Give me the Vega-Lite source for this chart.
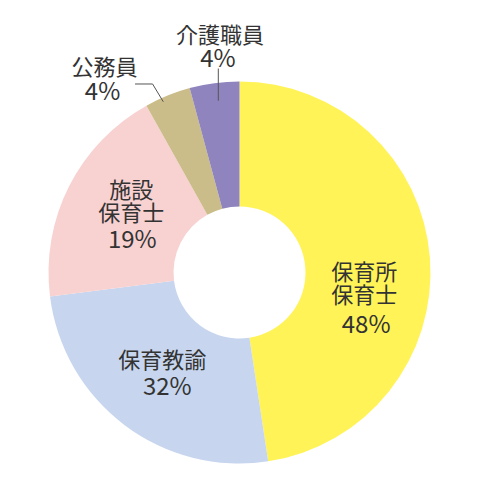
{
  "$schema": "https://vega.github.io/schema/vega-lite/v6.json",
  "width": 479,
  "height": 413,
  "autosize": "none",
  "padding": {"top": 66, "left": 0, "right": 0, "bottom": 0},
  "background": "white",
  "config": {"view": {"stroke": null}, "text": {"font": "Noto Sans CJK JP", "fontSize": 22, "fill": "#333333", "lineHeight": 23, "lineBreak": "\n"}},
  "datasets": {
    "slices": [
      {"name": "保育所保育士", "value": 47.6, "rank": 1, "label": "保育所\n保育士", "pct": "48%"},
      {"name": "保育教諭", "value": 25.4, "rank": 2, "label": "保育教諭", "pct": "32%"},
      {"name": "施設保育士", "value": 18.9, "rank": 3, "label": "施設\n保育士", "pct": "19%"},
      {"name": "公務員", "value": 3.9, "rank": 4, "label": "公務員", "pct": "4%"},
      {"name": "介護職員", "value": 4.2, "rank": 5, "label": "介護職員", "pct": "4%"}
    ],
    "leaders": [
      {"leader": "公務員", "step": 1, "x": -0.547, "y": 0.987},
      {"leader": "公務員", "step": 2, "x": -0.455, "y": 0.987},
      {"leader": "公務員", "step": 3, "x": -0.399, "y": 0.894},
      {"leader": "介護職員", "step": 1, "x": -0.111, "y": 1.068},
      {"leader": "介護職員", "step": 2, "x": -0.111, "y": 0.8995}
    ]
  },
  "layer": [
    {
      "data": {"name": "slices"},
      "mark": {"type": "arc", "outerRadius": 191, "innerRadius": 66},
      "encoding": {
        "theta": {"field": "value", "type": "quantitative", "stack": true},
        "order": {"field": "rank", "type": "quantitative"},
        "color": {"field": "name", "type": "nominal", "legend": null,
          "scale": {"domain": ["保育所保育士", "保育教諭", "施設保育士", "公務員", "介護職員"],
                    "range": ["#FFF358", "#C7D6EE", "#F8D1D1", "#CABD89", "#8F84BD"]}}
      }
    },
    {
      "data": {"name": "leaders"},
      "mark": {"type": "line", "stroke": "#555555", "strokeWidth": 1},
      "encoding": {
        "x": {"field": "x", "type": "quantitative", "axis": null, "scale": {"domain": [-1.2539, 1.2539], "nice": false, "zero": false}},
        "y": {"field": "y", "type": "quantitative", "axis": null, "scale": {"domain": [-1.0812, 1.0812], "nice": false, "zero": false}},
        "detail": {"field": "leader"},
        "order": {"field": "step", "type": "quantitative"}
      }
    },
    {"data": {"name": "slices"}, "mark": {"type": "text", "radius": 128, "dx": -3, "dy": 10},
     "encoding": {"theta": {"field": "value", "type": "quantitative", "stack": true}, "order": {"field": "rank", "type": "quantitative"},
       "text": {"condition": {"test": "datum.name === '保育所保育士'", "field": "label"}, "value": ""}}},
    {"data": {"name": "slices"}, "mark": {"type": "text", "radius": 128, "dx": -1, "dy": 63, "fontSize": 24},
     "encoding": {"theta": {"field": "value", "type": "quantitative", "stack": true}, "order": {"field": "rank", "type": "quantitative"},
       "text": {"condition": {"test": "datum.name === '保育所保育士'", "field": "pct"}, "value": ""}}},
    {"data": {"name": "slices"}, "mark": {"type": "text", "radius": 128, "dx": 0, "dy": -14},
     "encoding": {"theta": {"field": "value", "type": "quantitative", "stack": true}, "order": {"field": "rank", "type": "quantitative"},
       "text": {"condition": {"test": "datum.name === '保育教諭'", "field": "label"}, "value": ""}}},
    {"data": {"name": "slices"}, "mark": {"type": "text", "radius": 128, "dx": 5, "dy": 13, "fontSize": 24},
     "encoding": {"theta": {"field": "value", "type": "quantitative", "stack": true}, "order": {"field": "rank", "type": "quantitative"},
       "text": {"condition": {"test": "datum.name === '保育教諭'", "field": "pct"}, "value": ""}}},
    {"data": {"name": "slices"}, "mark": {"type": "text", "radius": 128, "dx": 6, "dy": -24},
     "encoding": {"theta": {"field": "value", "type": "quantitative", "stack": true}, "order": {"field": "rank", "type": "quantitative"},
       "text": {"condition": {"test": "datum.name === '施設保育士'", "field": "label"}, "value": ""}}},
    {"data": {"name": "slices"}, "mark": {"type": "text", "radius": 128, "dx": 7, "dy": 26, "fontSize": 24},
     "encoding": {"theta": {"field": "value", "type": "quantitative", "stack": true}, "order": {"field": "rank", "type": "quantitative"},
       "text": {"condition": {"test": "datum.name === '施設保育士'", "field": "pct"}, "value": ""}}},
    {"data": {"name": "slices"}, "mark": {"type": "text", "radius": 220, "dx": -52, "dy": -1},
     "encoding": {"theta": {"field": "value", "type": "quantitative", "stack": true}, "order": {"field": "rank", "type": "quantitative"},
       "text": {"condition": {"test": "datum.name === '公務員'", "field": "label"}, "value": ""}}},
    {"data": {"name": "slices"}, "mark": {"type": "text", "radius": 220, "dx": -54, "dy": 24, "fontSize": 24},
     "encoding": {"theta": {"field": "value", "type": "quantitative", "stack": true}, "order": {"field": "rank", "type": "quantitative"},
       "text": {"condition": {"test": "datum.name === '公務員'", "field": "pct"}, "value": ""}}},
    {"data": {"name": "slices"}, "mark": {"type": "text", "radius": 225, "dx": 10, "dy": -13},
     "encoding": {"theta": {"field": "value", "type": "quantitative", "stack": true}, "order": {"field": "rank", "type": "quantitative"},
       "text": {"condition": {"test": "datum.name === '介護職員'", "field": "label"}, "value": ""}}},
    {"data": {"name": "slices"}, "mark": {"type": "text", "radius": 225, "dx": 8, "dy": 11, "fontSize": 24},
     "encoding": {"theta": {"field": "value", "type": "quantitative", "stack": true}, "order": {"field": "rank", "type": "quantitative"},
       "text": {"condition": {"test": "datum.name === '介護職員'", "field": "pct"}, "value": ""}}}
  ]
}
